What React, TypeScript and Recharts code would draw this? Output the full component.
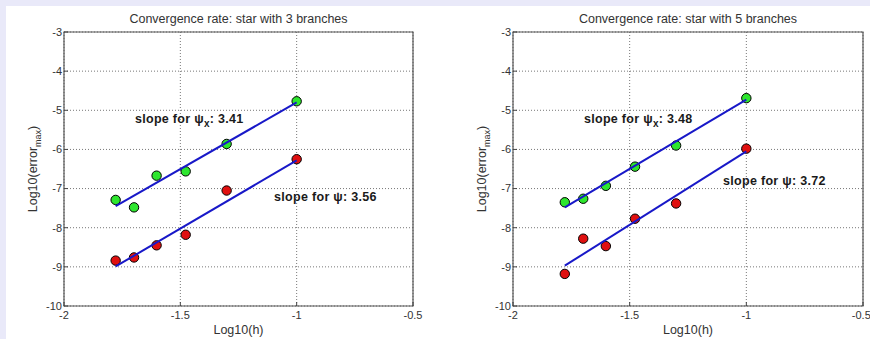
import { ScatterChart, Scatter, XAxis, YAxis, CartesianGrid, ReferenceArea, ReferenceDot } from 'recharts'

// log10(h) for h = 1/60 ... 1/10
const hValues = [-1.778, -1.699, -1.602, -1.477, -1.301, -1.0]

const star3Psi = [-8.84, -8.76, -8.45, -8.18, -7.05, -6.25]
const star3PsiX = [-7.29, -7.48, -6.67, -6.56, -5.86, -4.77]
const star5Psi = [-9.18, -8.28, -8.47, -7.77, -7.38, -5.98]
const star5PsiX = [-7.35, -7.26, -6.93, -6.44, -5.9, -4.69]

// fitted lines, endpoints at first and last h
const fitX = [-1.778, -1.0]
const star3FitPsi = [-8.99, -6.28]
const star3FitPsiX = [-7.45, -4.8]
const star5FitPsi = [-8.97, -6.05]
const star5FitPsiX = [-7.48, -4.73]

const xTicks = [-2, -1.5, -1, -0.5]
const yTicks = [-10, -9, -8, -7, -6, -5, -4, -3]

const FONT = 'Liberation Sans, Arial, sans-serif'
const GREEN = '#2ee62e'
const RED = '#e01010'
const BLUE = '#1818c8'

const toPoints = (xs: number[], ys: number[]) => xs.map((x, i) => ({ x, y: ys[i] }))

const Marker = (props: any) => (
  <circle cx={props.cx} cy={props.cy} r={4.7} fill={props.fill} stroke="#000" strokeWidth={1} />
)

const NoMarker = () => null

const SlopeNote = ({ sub, value }: { sub?: string; value: string }) => (props: any) => (
  <text x={props.cx} y={props.cy} fontFamily={FONT} fontSize={12.5} fontWeight="bold" fill="#1a1a1a" letterSpacing={0.3}>
    slope for ψ
    {sub && (
      <tspan dy={4} fontSize={10}>
        {sub}
      </tspan>
    )}
    <tspan dy={sub ? -4 : 0}>: {value}</tspan>
  </text>
)

const YLabel = (props: any) => {
  const { x, y, height } = props.viewBox
  const cx = x + 13
  const cy = y + height / 2
  return (
    <text x={cx} y={cy} transform={`rotate(-90 ${cx} ${cy})`} textAnchor="middle" fontFamily={FONT} fontSize={12.5} fill="#333">
      Log10(error
      <tspan dy={4} fontSize={9}>max</tspan>
      <tspan dy={-4}>)</tspan>
    </text>
  )
}

const XLabel = (props: any) => {
  const { x, y, width } = props.viewBox
  return (
    <text x={x + width / 2} y={y + 28} textAnchor="middle" fontFamily={FONT} fontSize={12.5} fill="#333">
      Log10(h)
    </text>
  )
}

interface PanelProps {
  title: string
  left: number
  marginLeft: number
  marginRight: number
  psi: number[]
  psiX: number[]
  fitPsi: number[]
  fitPsiX: number[]
  notePsiX: { x: number; y: number; value: string }
  notePsi: { x: number; y: number; value: string }
}

function Panel(p: PanelProps) {
  return (
    <div style={{ position: 'absolute', left: p.left, top: 0 }}>
      <ScatterChart
        width={435}
        height={339}
        margin={{ top: 32, right: p.marginRight, bottom: 3, left: p.marginLeft }}
      >
        <CartesianGrid stroke="#777" strokeDasharray="1 2" strokeWidth={1} />
        <XAxis
          type="number"
          dataKey="x"
          domain={[-2, -0.5]}
          ticks={xTicks}
          height={30}
          axisLine={false}
          tickLine={{ stroke: '#444' }}
          tickSize={-4}
          tickMargin={9}
          tick={{ fontSize: 11, fill: '#333', fontFamily: FONT }}
          label={{ content: XLabel }}
        />
        <YAxis
          type="number"
          dataKey="y"
          domain={[-10, -3]}
          ticks={yTicks}
          width={40}
          axisLine={false}
          tickLine={{ stroke: '#444' }}
          tickSize={-4}
          tickMargin={6}
          tick={{ fontSize: 11, fill: '#333', fontFamily: FONT }}
          label={{ content: YLabel }}
        />
        <ReferenceArea
          x1={-2}
          x2={-0.5}
          y1={-10}
          y2={-3}
          fill="none"
          fillOpacity={0}
          stroke="#555"
          strokeWidth={1.2}
          ifOverflow="visible"
          label={{ value: p.title, position: 'top', offset: 9, fontSize: 12.5, fill: '#333', fontFamily: FONT }}
        />
        <Scatter data={toPoints(hValues, p.psiX)} fill={GREEN} shape={Marker} isAnimationActive={false} />
        <Scatter data={toPoints(hValues, p.psi)} fill={RED} shape={Marker} isAnimationActive={false} />
        <Scatter
          data={toPoints(fitX, p.fitPsiX)}
          line={{ stroke: BLUE, strokeWidth: 2 }}
          shape={NoMarker}
          isAnimationActive={false}
        />
        <Scatter
          data={toPoints(fitX, p.fitPsi)}
          line={{ stroke: BLUE, strokeWidth: 2 }}
          shape={NoMarker}
          isAnimationActive={false}
        />
        <ReferenceDot x={p.notePsiX.x} y={p.notePsiX.y} r={0} shape={SlopeNote({ sub: 'x', value: p.notePsiX.value })} />
        <ReferenceDot x={p.notePsi.x} y={p.notePsi.y} r={0} shape={SlopeNote({ value: p.notePsi.value })} />
      </ScatterChart>
    </div>
  )
}

export default function App() {
  return (
    <div style={{ position: 'absolute', left: 0, top: 0, width: 870, height: 339, background: '#e9e9f9', overflow: 'hidden' }}>
      <div style={{ position: 'absolute', left: 6, top: 6, width: 864, height: 333, background: '#fff' }} />
      <Panel
        title="Convergence rate: star with 3 branches"
        left={0}
        marginLeft={24}
        marginRight={22}
        psi={star3Psi}
        psiX={star3PsiX}
        fitPsi={star3FitPsi}
        fitPsiX={star3FitPsiX}
        notePsiX={{ x: -1.695, y: -5.32, value: '3.41' }}
        notePsi={{ x: -1.097, y: -7.32, value: '3.56' }}
      />
      <Panel
        title="Convergence rate: star with 5 branches"
        left={435}
        marginLeft={38}
        marginRight={7}
        psi={star5Psi}
        psiX={star5PsiX}
        fitPsi={star5FitPsi}
        fitPsiX={star5FitPsiX}
        notePsiX={{ x: -1.696, y: -5.32, value: '3.48' }}
        notePsi={{ x: -1.1, y: -6.91, value: '3.72' }}
      />
    </div>
  )
}
